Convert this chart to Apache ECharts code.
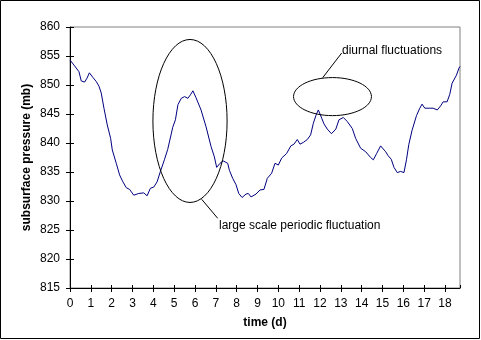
<!DOCTYPE html>
<html>
<head>
<meta charset="utf-8">
<script src="https://cdn.jsdelivr.net/npm/echarts@6/dist/echarts.min.js"></script>
<style>html,body{margin:0;padding:0;background:#fff}#c{width:481px;height:340px}</style>
</head>
<body>
<div id="c"></div>
<script>
var times = [0, 0.22, 0.43, 0.54, 0.7, 0.82, 0.93, 1.1, 1.26, 1.39, 1.5, 1.63, 1.79, 1.95, 2.03, 2.22, 2.38, 2.54, 2.7, 2.86, 2.94, 3.06,
  3.3, 3.54, 3.7, 3.86, 4.02, 4.18, 4.34, 4.53, 4.69, 4.85, 4.93, 5.06, 5.18, 5.34, 5.5, 5.66, 5.78, 5.9,
  6.05, 6.29, 6.53, 6.77, 6.93, 7.04, 7.2, 7.36, 7.57, 7.65, 7.81, 7.97, 8.1, 8.26, 8.45, 8.56, 8.69, 8.93,
  9.12, 9.31, 9.47, 9.68, 9.84, 10.0, 10.16, 10.4, 10.6, 10.75, 10.91, 11.04, 11.2, 11.39, 11.55, 11.68, 11.81, 11.92,
  12.08, 12.19, 12.35, 12.55, 12.76, 12.91, 13.12, 13.31, 13.55, 13.71, 13.95, 14.19, 14.43, 14.56, 14.72, 14.91,
  15.15, 15.27, 15.42, 15.55, 15.71, 15.87, 16.03, 16.15, 16.26, 16.42, 16.63, 16.79, 16.9, 17.03, 17.27, 17.43,
  17.63, 17.79, 17.91, 18.1, 18.23, 18.34, 18.55, 18.67, 18.72];
var pressure = [854.3, 853.3, 852.3, 850.7, 850.5, 851.2, 852.1, 851.3, 850.6, 849.8, 848.6, 846.0, 843.1, 840.8, 838.8, 836.5, 834.5, 833.3, 832.3, 832.0, 831.9, 831.0,
  831.3, 831.4, 830.9, 832.2, 832.4, 833.3, 835.1, 837.1, 838.9, 841.4, 842.7, 844.0, 846.6, 847.7, 848.0, 847.7, 848.3, 849.0,
  847.8, 845.7, 842.8, 839.4, 837.6, 835.8, 836.5, 836.9, 836.5, 835.3, 833.9, 832.8, 831.3, 830.6, 831.2, 831.3, 830.7, 831.2,
  831.9, 832.0, 833.9, 834.8, 836.5, 836.2, 837.4, 838.2, 839.5, 839.8, 840.6, 839.8, 840.1, 840.6, 841.4, 843.4, 844.8, 845.7,
  844.3, 843.3, 842.4, 841.6, 842.4, 844.0, 844.4, 843.7, 842.5, 840.8, 839.1, 838.5, 837.5, 837.1, 838.2, 839.5,
  838.5, 837.8, 837.2, 835.8, 834.9, 835.1, 834.9, 837.1, 839.7, 842.2, 844.7, 846.0, 846.7, 846.0, 846.0, 846.0,
  845.7, 846.4, 847.1, 847.1, 848.4, 850.3, 851.7, 852.9, 853.2];
var yTicks = [815, 820, 825, 830, 835, 840, 845, 850, 855, 860];
var xTickLabels = ['0','1','2','3','4','5','6','7','8','9','10','11','12','13','14','15','16','17','18'];
var xMax = 18.72;
var annotations = [
  {text: 'diurnal fluctuations', t: 12.6, v: 848.0, rt: 1.87, rv: 3.28, from: [341.7, 53], to: [322.7, 77.7], label: [342, 51]},
  {text: 'large scale periodic fluctuation', t: 5.76, v: 843.8, rt: 1.78, rv: 14.05, from: [201.7, 199.3], to: [217.7, 218.3], label: [219, 226]}
];

var data = times.map(function (t, i) { return [t, pressure[i]]; });
var font = '"Liberation Sans", Arial, sans-serif';
var chart = echarts.init(document.getElementById('c'), null, {renderer: 'canvas'});
var baseX = {
  type: 'value', min: 0, max: xMax, interval: 1,
  axisLine: {show: true, lineStyle: {color: '#000', width: 1}},
  splitLine: {show: false}
};
var baseY = {
  type: 'value', min: yTicks[0], max: yTicks[yTicks.length - 1], interval: 5,
  axisLine: {show: true, lineStyle: {color: '#000', width: 1}},
  splitLine: {show: false}
};
chart.setOption({
  animation: false,
  backgroundColor: '#fff',
  grid: {left: 70, top: 27, right: 21, bottom: 52, show: true, borderColor: '#808080', borderWidth: 1, backgroundColor: '#fff'},
  xAxis: [
    Object.assign({}, baseX, {
      name: 'time (d)', nameLocation: 'middle', nameGap: 29,
      nameTextStyle: {fontFamily: font, fontSize: 12, fontWeight: 'bold', color: '#000'},
      axisTick: {show: true, length: 4, inside: false, lineStyle: {color: '#000'}},
      axisLabel: {show: true, margin: 10, fontFamily: font, fontSize: 12, color: '#000', showMaxLabel: false,
        formatter: function (v) { var i = Math.round(v); return Math.abs(v - i) < 1e-6 && xTickLabels[i] !== undefined ? xTickLabels[i] : ''; }}
    }),
    Object.assign({}, baseX, {
      position: 'bottom', axisLine: {show: false},
      axisTick: {show: true, length: 3, inside: true, lineStyle: {color: '#000'}},
      axisLabel: {show: false}
    })
  ],
  yAxis: [
    Object.assign({}, baseY, {
      name: 'subsurface pressure (mb)', nameLocation: 'middle', nameGap: 37, nameMoveOverlap: false,
      nameTextStyle: {fontFamily: font, fontSize: 12, fontWeight: 'bold', color: '#000'},
      axisTick: {show: true, length: 4, inside: false, lineStyle: {color: '#000'}},
      axisLabel: {show: true, margin: 10, fontFamily: font, fontSize: 12, color: '#000'}
    }),
    Object.assign({}, baseY, {
      position: 'left', axisLine: {show: false},
      axisTick: {show: true, length: 4, inside: true, lineStyle: {color: '#000'}},
      axisLabel: {show: false}
    })
  ],
  series: [{
    type: 'line', data: data, xAxisIndex: 0, yAxisIndex: 0,
    showSymbol: false, symbol: 'none', smooth: false,
    lineStyle: {color: '#000080', width: 1},
    z: 3
  }]
});

var g = [{type: 'rect', shape: {x: 0.5, y: 0.5, width: 479, height: 338}, style: {fill: 'none', stroke: '#000', lineWidth: 1}, z: 100}];
annotations.forEach(function (a) {
  var c = chart.convertToPixel({xAxisIndex: 0, yAxisIndex: 0}, [a.t, a.v]);
  var e = chart.convertToPixel({xAxisIndex: 0, yAxisIndex: 0}, [a.t + a.rt, a.v - a.rv]);
  g.push({type: 'ellipse', shape: {cx: c[0], cy: c[1], rx: Math.abs(e[0] - c[0]), ry: Math.abs(e[1] - c[1])},
    style: {fill: 'none', stroke: '#000', lineWidth: 1}, z: 100});
  g.push({type: 'line', shape: {x1: a.from[0], y1: a.from[1], x2: a.to[0], y2: a.to[1]}, style: {stroke: '#000', lineWidth: 1}, z: 100});
  g.push({type: 'text', x: a.label[0], y: a.label[1], style: {text: a.text, fontFamily: font, fontSize: 12, fill: '#000', verticalAlign: 'middle', align: 'left'}, z: 100});
});
chart.setOption({graphic: g});
</script>
</body>
</html>
